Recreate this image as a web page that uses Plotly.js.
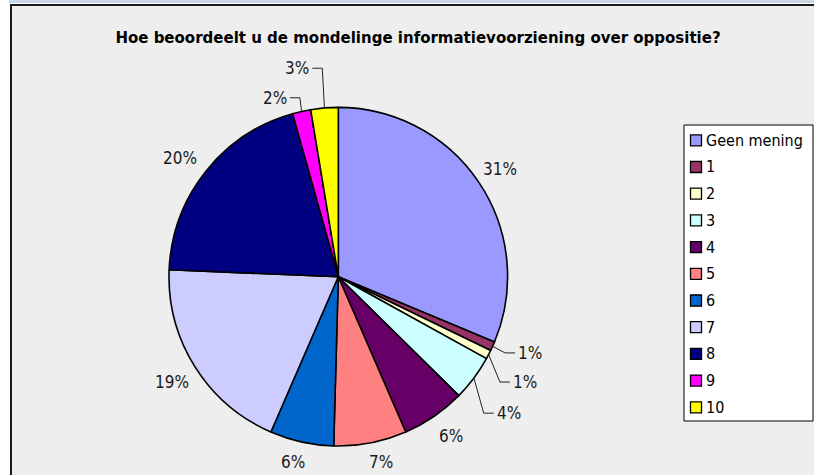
<!DOCTYPE html>
<html>
<head>
<meta charset="utf-8">
<script src="https://cdn.plot.ly/plotly-3.0.1.min.js"></script>
<style>html,body{margin:0;padding:0;background:#fff;overflow:hidden}</style>
</head>
<body>
<div id="chart" style="width:814px;height:475px"></div>
<script>
// ---- data ----
const categories = ['Geen mening', '1', '2', '3', '4', '5', '6', '7', '8', '9', '10'];
const counts = [36, 1, 1, 5, 7, 8, 7, 22, 23, 2, 3];
const chartTitle = 'Hoe beoordeelt u de mondelinge informatievoorziening over oppositie?';

// ---- style ----
const colors = ['#9999FF', '#993366', '#FFFFCC', '#CCFFFF', '#660066', '#FF8080',
                '#0066CC', '#CCCCFF', '#000080', '#FF00FF', '#FFFF00'];
// label placement per slice: angle offset (deg), radius factor, leader side
const placement = [
  {a: 0.0, k: 1.15},
  {a: 0.3, k: 1.083, side: 'right'},
  {a: 5.7, k: 1.14, side: 'right'},
  {a: 6.4, k: 1.178, side: 'right'},
  {a: -0.8, k: 1.152},
  {a: -2.0, k: 1.123},
  {a: 1.3, k: 1.125},
  {a: -0.4, k: 1.163},
  {a: -1.5, k: 1.168},
  {a: 0.4, k: 1.081, side: 'left'},
  {a: 0.3, k: 1.235, side: 'left'}
];

const W = 814, H = 475;
const CX = 338.3, CY = 276.7, R = 169.3;
const fx = x => x / W;
const fy = y => 1 - y / H;
const FONT = '"DejaVu Sans Condensed", "DejaVu Sans", Verdana, sans-serif';
const TITLE_FONT = '"DejaVu Sans", Verdana, sans-serif';

const total = counts.reduce((s, v) => s + v, 0);
function pt(angDeg, k) {
  const a = angDeg * Math.PI / 180;
  return [CX + k * R * Math.sin(a), CY - k * R * Math.cos(a)];
}

const shapes = [];
const annotations = [];

// background frame
shapes.push({type: 'rect', xref: 'paper', yref: 'paper', layer: 'below',
  x0: fx(9), x1: 1, y0: fy(3), y1: 1, fillcolor: '#c9d8e7', line: {width: 0}});
shapes.push({type: 'rect', xref: 'paper', yref: 'paper', layer: 'below',
  x0: fx(11), x1: 1, y0: 0, y1: fy(5), fillcolor: '#eeeeee', line: {width: 0}});
shapes.push({type: 'line', xref: 'paper', yref: 'paper', layer: 'below',
  x0: fx(11), x1: fx(11), y0: 0, y1: fy(4), line: {color: '#1a1a1a', width: 2}});
shapes.push({type: 'line', xref: 'paper', yref: 'paper', layer: 'below',
  x0: fx(10), x1: 1, y0: fy(5), y1: fy(5), line: {color: '#1a1a1a', width: 2}});

// slice labels
let cum = 0;
counts.forEach((c, i) => {
  const pct = c / total;
  const mid = (cum + pct / 2) * 360;
  cum += pct;
  const txt = Math.round(pct * 100) + '%';
  const p = placement[i];
  const [ex, ey] = pt(mid + p.a, p.k);
  const font = {family: FONT, size: 17, color: '#1a1a1a'};
  if (p.side) {
    const [sx, sy] = pt(mid, 1.0);
    const dir = p.side === 'right' ? 1 : -1;
    shapes.push({type: 'line', xref: 'paper', yref: 'paper',
      x0: fx(sx), y0: fy(sy), x1: fx(ex), y1: fy(ey), line: {color: '#222', width: 1}});
    shapes.push({type: 'line', xref: 'paper', yref: 'paper',
      x0: fx(ex), y0: fy(ey), x1: fx(ex + dir * 10), y1: fy(ey), line: {color: '#222', width: 1}});
    annotations.push({xref: 'paper', yref: 'paper', x: fx(ex + dir * 12), y: fy(ey),
      xanchor: p.side === 'right' ? 'left' : 'right', yanchor: 'middle',
      text: txt, showarrow: false, font: font, borderpad: 0});
  } else {
    annotations.push({xref: 'paper', yref: 'paper', x: fx(ex), y: fy(ey),
      xanchor: 'center', yanchor: 'middle', text: txt, showarrow: false, font: font, borderpad: 0});
  }
});

// legend
const LX = 684, LT = 125, LB = 421, LR = 813;
const ROW0 = 140.3, STEP = 26.7;
shapes.push({type: 'rect', xref: 'paper', yref: 'paper',
  x0: fx(LX), x1: fx(LR), y0: fy(LB), y1: fy(LT), fillcolor: '#ffffff', line: {color: '#000', width: 1}});
categories.forEach((name, i) => {
  const yc = ROW0 + i * STEP;
  shapes.push({type: 'rect', xref: 'paper', yref: 'paper',
    x0: fx(690.5), x1: fx(701.5), y0: fy(yc + 5.5), y1: fy(yc - 5.5),
    fillcolor: colors[i], line: {color: '#000', width: 1.3}});
  annotations.push({xref: 'paper', yref: 'paper', x: fx(704.5), y: fy(yc),
    xanchor: 'left', yanchor: 'middle', text: name, showarrow: false, borderpad: 0,
    font: {family: FONT, size: 16, color: '#000'}});
});

const trace = {
  type: 'pie',
  labels: categories,
  values: counts,
  sort: false,
  direction: 'clockwise',
  rotation: 0,
  marker: {colors: colors, line: {color: '#000', width: 1.6}},
  textinfo: 'none',
  hoverinfo: 'label+percent',
  showlegend: false,
  domain: {x: [fx(CX - R), fx(CX + R)], y: [fy(CY + R), fy(CY - R)]}
};

const layout = {
  width: W, height: H, autosize: false,
  margin: {l: 0, r: 0, t: 0, b: 0, pad: 0},
  paper_bgcolor: '#ffffff',
  showlegend: false,
  title: {
    text: '<b>' + chartTitle + '</b>',
    font: {family: TITLE_FONT, size: 15, color: '#000'},
    x: fx(418), xanchor: 'center', xref: 'paper',
    y: fy(38), yanchor: 'middle', yref: 'paper'
  },
  shapes: shapes,
  annotations: annotations
};

Plotly.newPlot('chart', [trace], layout, {displayModeBar: false, staticPlot: true});
</script>
</body>
</html>
